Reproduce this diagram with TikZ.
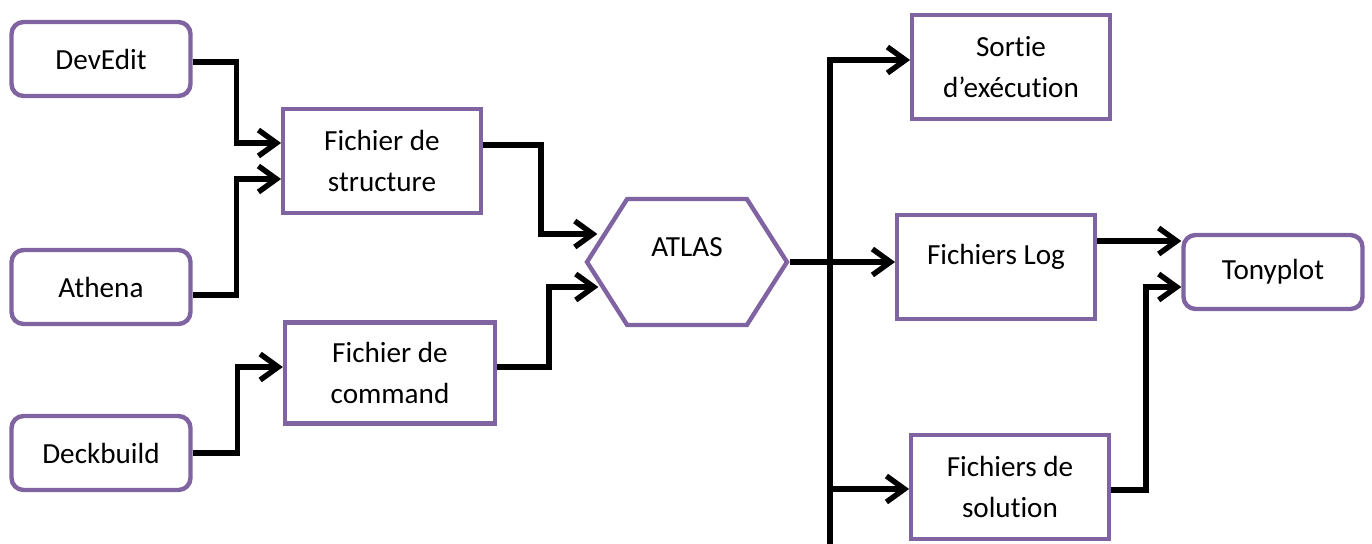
\documentclass[tikz,border=0pt]{standalone}
\usepackage{fontspec}
\setmainfont{Carlito}[Ligatures=NoCommon]
\usetikzlibrary{arrows.meta, positioning, calc, shapes.symbols}

\definecolor{boxpurple}{HTML}{8064A2}

\tikzset{
  tool/.style={draw=boxpurple, line width=2.5pt, rounded corners=0.24cm, fill=white,
    minimum width=3.58cm, minimum height=1.48cm, font=\fontsize{16.6}{23}\selectfont},
  fichier/.style={draw=boxpurple, line width=2.5pt, fill=white, align=center,
    minimum width=3.95cm, minimum height=2.08cm, font=\fontsize{16.6}{23}\selectfont},
  hexa/.style={draw=boxpurple, line width=2.5pt, fill=white, signal, signal to=east and west,
    signal pointer angle=115, minimum width=4cm, minimum height=2.52cm,
    font=\fontsize{16.6}{23}\selectfont},
  flow/.style={line width=3.1pt, -{Straight Barb[length=0.36cm,width=0.52cm]}},
}

\begin{document}
\begin{tikzpicture}[x=0.02cm, y=-0.02cm]
\useasboundingbox (0,0) rectangle (1372,544);

% outils d'entree
\node[tool] (devedit) at (101,59) {DevEdit};
\node[tool] (athena) at (101,287) {Athena};
\node[tool] (deckbuild) at (101,453) {Deckbuild};

\node[fichier] (structure) at (382,161) {Fichier de\\structure};
\node[fichier, minimum width=4.2cm, minimum height=2.02cm] (command) at (390,373) {Fichier de\\command};

% simulateur
\node[hexa, text height=0.45cm, text depth=0.69cm] (atlas) at (687,262) {ATLAS};

% sorties
\node[fichier] (sortie) at (1011,67) {Sortie\\d’exécution};
\node[fichier, text height=0.45cm, text depth=0.57cm] (log) at (996,267) {Fichiers Log};
\node[fichier] (solution) at (1010,487) {Fichiers de\\solution};
\node[tool] (tonyplot) at (1273,272) {Tonyplot};

\coordinate (bustop) at (830,60);
\coordinate (busend) at (830,544);

\draw[flow] ($(devedit.east)+(0,3)$) -- ++(44,0) |- ($(structure.west)+(0,-18)$);
\draw[flow] ($(athena.east)+(0,8)$) -- ++(44,0) |- ($(structure.west)+(0,18)$);
\draw[flow] (deckbuild.east) -- ++(45,0) |- ($(command.west)+(0,-6)$);
\draw[flow] ($(structure.east)+(0,-16)$) -- ++(58,0) |- ($(atlas.west)+(13,-28)$);
\draw[flow] ($(command.east)+(0,-6)$) -- ++(52,0) |- ($(atlas.west)+(14,25)$);

\draw[flow] (busend) -- (bustop) -- (bustop -| sortie.west);
\draw[flow] (atlas.east) -- (atlas.east -| log.west);
\draw[flow] ($(solution.west -| bustop)+(0,2)$) -- ($(solution.west)+(0,2)$);

\draw[flow] ($(log.east)+(0,-26)$) -- ($(log.east -| tonyplot.west)+(0,-26)$);
\draw[flow] ($(solution.east)+(0,3)$) -- ++(35,0) |- ($(tonyplot.west)+(0,15)$);
\end{tikzpicture}
\end{document}
